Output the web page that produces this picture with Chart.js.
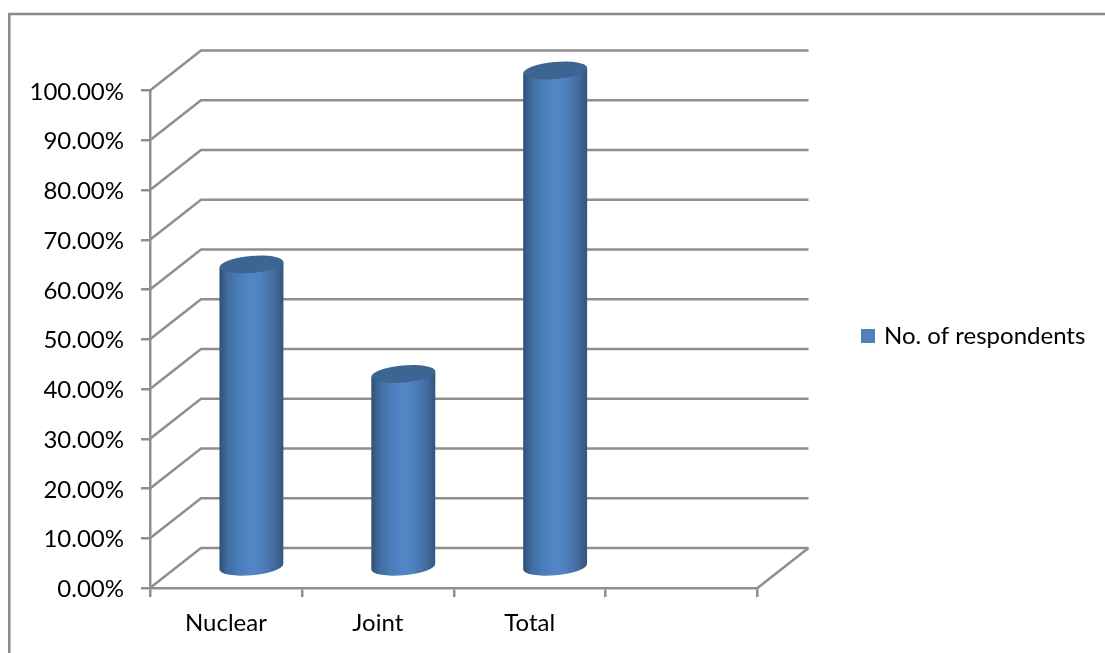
<!DOCTYPE html>
<html>
<head>
<meta charset="utf-8">
<title>No. of respondents</title>
<script src="https://cdn.jsdelivr.net/npm/chart.js@4/dist/chart.umd.js"></script>
<style>
  html, body { margin: 0; padding: 0; background: #fff; overflow: hidden; }
  #grafico { display: block; }
</style>
</head>
<body>
<canvas id="grafico" width="1105" height="653"></canvas>
<script>
// datos del grafico
const categories = ['Nuclear', 'Joint', 'Total', ''];
const respondents = [61, 39, 100, null];
const seriesName = 'No. of respondents';

const fontName = 'Lato';
const fontSize = 24;
const lineGray = '#8f8f8f';
const depthX = 51;   // profundidad de la pared de atras
const depthY = 40;

// marco, paredes y cilindros se dibujan a mano sobre las escalas de Chart.js
const cilindros = {
    id: 'cilindros',
    beforeDraw(chart) {
        const ctx = chart.ctx;
        ctx.save();
        ctx.strokeStyle = '#8a8a8a';
        ctx.lineWidth = 2.5;
        ctx.beginPath();
        ctx.moveTo(9.3, 653);
        ctx.lineTo(9.3, 14);
        ctx.lineTo(1105, 14);
        ctx.stroke();
        ctx.restore();
    },
    afterLayout(chart) {
        // la leyenda va a la derecha de la pared, no dentro del area
        const legend = chart.legend;
        const padding = legend.options.labels.padding;
        legend.left = 864 - padding;
        legend.right = legend.left + legend.width;
        legend.top = 324 - padding;
        legend.bottom = legend.top + legend.height;
    },
    beforeDatasetsDraw(chart) {
        const ctx = chart.ctx;
        const y = chart.scales.y;
        const area = chart.chartArea;
        ctx.save();
        ctx.strokeStyle = lineGray;
        ctx.lineWidth = 2.5;
        y.ticks.forEach((tick) => {
            const py = y.getPixelForValue(tick.value);
            ctx.beginPath();
            ctx.moveTo(area.left, py);
            ctx.lineTo(area.left + depthX, py - depthY);
            ctx.lineTo(area.right + depthX, py - depthY);
            ctx.stroke();
        });
        // piso, lado derecho
        ctx.beginPath();
        ctx.moveTo(area.right, area.bottom);
        ctx.lineTo(area.right + depthX, area.bottom - depthY);
        ctx.stroke();
        ctx.restore();

        chart.getDatasetMeta(0).data.forEach((bar, i) => {
            if (respondents[i] == null) return;
            drawCylinder(ctx, bar);
        });
        return false;   // ya estan dibujadas, no hace falta la barra plana
    }
};

function drawCylinder(ctx, bar) {
    const a = bar.width / 2;
    const b = 8.5;
    const tilt = -0.09;
    const cx = bar.x + depthX / 2;
    const top = bar.y - depthY / 2;
    const bottom = bar.base - depthY / 2;
    const rise = a * Math.sin(tilt);

    const grad = ctx.createLinearGradient(cx - a, 0, cx + a, 0);
    grad.addColorStop(0, '#2f5078');
    grad.addColorStop(0.12, '#3f6b9e');
    grad.addColorStop(0.3, '#4a7cb8');
    grad.addColorStop(0.5, '#5286c7');
    grad.addColorStop(0.65, '#4f82c0');
    grad.addColorStop(0.88, '#41699a');
    grad.addColorStop(1, '#33557f');

    ctx.save();
    ctx.fillStyle = grad;
    ctx.beginPath();
    ctx.moveTo(cx - a, top - rise);
    ctx.lineTo(cx - a, bottom - rise);
    ctx.ellipse(cx, bottom, a, b, tilt, Math.PI, 0, true);
    ctx.lineTo(cx + a, top + rise);
    ctx.closePath();
    ctx.fill();

    ctx.fillStyle = '#3d6591';
    ctx.beginPath();
    ctx.ellipse(cx, top, a, b, tilt, 0, Math.PI * 2);
    ctx.fill();
    ctx.restore();
}

new Chart(document.getElementById('grafico'), {
    type: 'bar',
    plugins: [cilindros],
    data: {
        labels: categories,
        datasets: [{
            label: seriesName,
            data: respondents,
            backgroundColor: '#4f81bd',
            borderColor: '#4f81bd',
            borderWidth: 6,    // cuadrito de la leyenda: 8 + borde
            barThickness: 64
        }]
    },
    options: {
        responsive: false,
        animation: false,
        layout: { padding: { left: 0, top: 90.5, right: 347.5, bottom: 0 } },
        plugins: {
            tooltip: { enabled: false },
            legend: {
                position: 'chartArea',
                align: 'start',
                labels: {
                    boxWidth: 8,
                    boxHeight: 8,
                    padding: 10,
                    color: '#000',
                    font: { family: fontName, size: fontSize }
                }
            }
        },
        scales: {
            x: {
                afterFit(scale) { scale.height = 65; },
                border: { color: lineGray, width: 2.5 },
                grid: { drawOnChartArea: false, color: lineGray, lineWidth: 2.5, tickLength: 9 },
                ticks: { color: '#000', padding: 12, maxRotation: 0, font: { family: fontName, size: fontSize } }
            },
            y: {
                min: 0,
                max: 100,
                afterFit(scale) { scale.width = 150; },
                border: { color: lineGray, width: 2.5 },
                grid: { drawOnChartArea: false, color: lineGray, lineWidth: 2.5, tickLength: 9 },
                ticks: {
                    stepSize: 10,
                    color: '#000',
                    padding: 17,
                    labelOffset: 1.5,
                    font: { family: fontName, size: fontSize },
                    callback: (v) => v.toFixed(2) + '%'
                }
            }
        }
    }
});
</script>
</body>
</html>
